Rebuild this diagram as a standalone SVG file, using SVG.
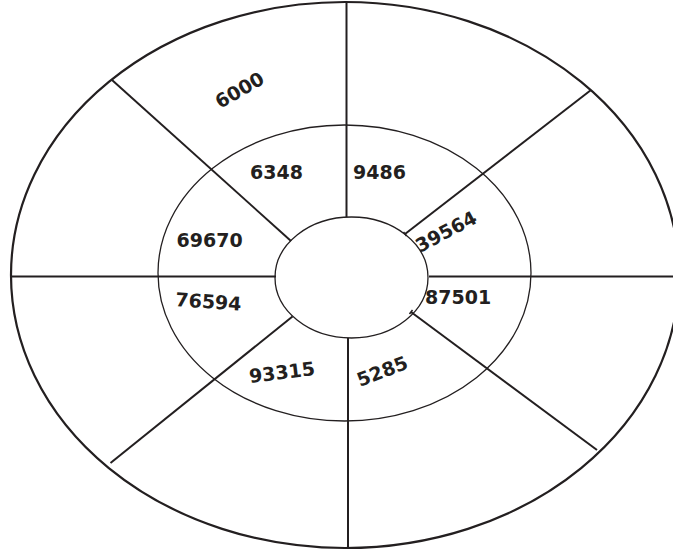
<svg xmlns="http://www.w3.org/2000/svg" width="673" height="555" viewBox="0 0 673 555">
<style>
.bg{fill:#ffffff}
.ring{fill:none;stroke:#231f20}
.outer{stroke-width:2.2}
.thin{stroke-width:1.3}
.con line{stroke:#231f20;stroke-width:2}
.con .tick{stroke-width:1.5}
text{font-family:"DejaVu Sans","Verdana",sans-serif;font-weight:bold;font-size:19px;fill:#231f20}
</style>
<rect class="bg" x="0" y="0" width="673" height="555"/>
<g id="outer-ring"><ellipse class="ring outer" cx="345" cy="275" rx="334" ry="273"/></g>
<g id="middle-ring"><ellipse class="ring thin" cx="344.5" cy="273" rx="186.5" ry="148"/></g>
<g id="inner-circle"><ellipse class="ring thin" cx="351.5" cy="277.5" rx="76.5" ry="60.5"/></g>
<g id="connectors" class="con">
<line x1="346.5" y1="2" x2="346.5" y2="217"/>
<line x1="348" y1="338" x2="348" y2="547"/>
<line x1="10" y1="276.5" x2="276" y2="276.5"/>
<line x1="429" y1="276.5" x2="673" y2="276.5"/>
<line x1="112" y1="80" x2="291" y2="241"/>
<line x1="591" y1="90" x2="405" y2="234"/>
<line x1="110.5" y1="463" x2="292.5" y2="316.5"/>
<line x1="597" y1="450" x2="411" y2="312"/>
<line class="tick" x1="403.5" y1="232" x2="406.5" y2="236"/>
<line class="tick" x1="409.5" y1="314" x2="412.5" y2="310"/>
</g>
<g id="label-6000"><text x="220" y="109" transform="rotate(-30 220 109)">6000</text></g>
<g id="label-6348"><text x="250" y="179">6348</text></g>
<g id="label-9486"><text x="353" y="179">9486</text></g>
<g id="label-69670"><text x="176.5" y="246.5">69670</text></g>
<g id="label-39564"><text x="420" y="253" transform="rotate(-28 420 253)">39564</text></g>
<g id="label-76594"><text x="175" y="306" transform="rotate(4 175 306)">76594</text></g>
<g id="label-87501"><text x="425" y="303.5">87501</text></g>
<g id="label-93315"><text x="250" y="383" transform="rotate(-7 250 383)">93315</text></g>
<g id="label-5285"><text x="360" y="387" transform="rotate(-21 360 387)">5285</text></g>
</svg>
